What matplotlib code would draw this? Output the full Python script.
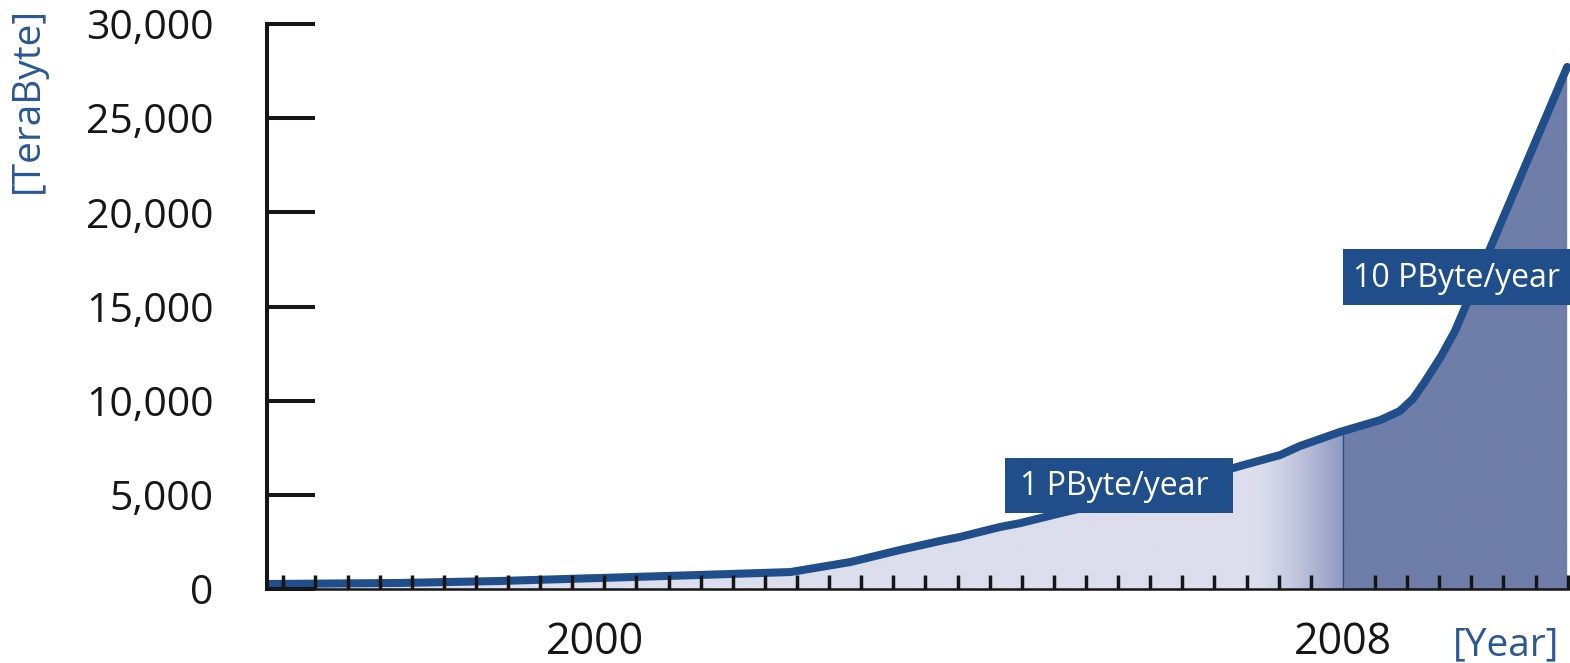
import numpy as np
import matplotlib
matplotlib.use("Agg")
import matplotlib.pyplot as plt
from matplotlib.colors import to_rgb
from matplotlib.patches import Polygon, Rectangle

plt.rcParams['font.family'] = ['Open Sans', 'DejaVu Sans']

# Cumulative stored data volume (TeraByte) by year
years = [1996.50, 1997.91, 1998.98, 2000.05, 2001.12, 2002.09, 2002.73, 2003.26,
         2003.69, 2003.90, 2004.33, 2004.55, 2004.99, 2005.40, 2005.94, 2006.47,
         2006.90, 2007.33, 2007.54, 2007.97, 2008.40, 2008.61, 2008.75, 2008.87,
         2009.05, 2009.20, 2010.40]
volume_tb = [265, 320, 425, 585, 745, 900, 1430, 2070,
             2550, 2760, 3290, 3500, 4040, 4510, 5150, 5890,
             6530, 7115, 7590, 8340, 8970, 9450, 10100, 10950,
             12350, 13700, 27720]

y_ticks = [0, 5000, 10000, 15000, 20000, 25000, 30000]
y_tick_labels = ["0", "5,000", "10,000", "15,000", "20,000", "25,000", "30,000"]
x_ticks = [2000, 2008]
x_tick_labels = ["2000", "2008"]
rate_labels = ["1 PByte/year", "10 PByte/year"]

W, H = 1570, 663
fig = plt.figure(figsize=(W / 100, H / 100), dpi=100)
fig.patch.set_facecolor('white')
ax = fig.add_axes([267 / W, 74 / H, (W - 267) / W, 565 / H])

x_min, x_max = 1996.49, 2010.43
y_max = 30000

NAVY = '#1f4e8b'
INK = '#161616'
BLUE_TXT = '#2b5797'
LIGHT = np.array(to_rgb('#dcdeec'))
MID = np.array(to_rgb('#8e99c0'))
DARK = np.array(to_rgb('#6f7ea8'))

# Area under the curve, shaded with a horizontal gradient
verts = list(zip(years, volume_tb)) + [(years[-1], 0), (years[0], 0)]
area = Polygon(verts, closed=True, facecolor='none', edgecolor='none')
ax.add_patch(area)
gx = np.linspace(x_min, x_max, 1600)
t = np.clip((gx - 2007.05) / (2008 - 2007.05), 0, 1) ** 1.4
rgb = LIGHT[None, :] * (1 - t[:, None]) + MID[None, :] * t[:, None]
rgb[gx >= 2008] = DARK
img = ax.imshow(rgb[None, :, :], extent=[x_min, x_max, 0, y_max], aspect='auto',
                origin='lower', interpolation='bilinear', zorder=1)
img.set_clip_path(area)

# Divider at 2008
ax.plot([2008, 2008], [0, np.interp(2008, years, volume_tb)], color=NAVY,
        lw=0.9, zorder=1.5)

# Volume curve
ax.plot(years, volume_tb, color=NAVY, lw=5.8, solid_joinstyle='round',
        solid_capstyle='round', zorder=2)

ax.set_xlim(x_min, x_max)
ax.set_ylim(0, y_max)

# Axes styling
for side in ('top', 'right'):
    ax.spines[side].set_visible(False)
ax.spines['left'].set_linewidth(2.9)
ax.spines['left'].set_color(INK)
ax.spines['bottom'].set_linewidth(1.8)
ax.spines['bottom'].set_color(INK)
ax.set_axisbelow(False)

ax.set_yticks(y_ticks, y_tick_labels)
ax.tick_params(axis='y', direction='in', length=34.5, width=2.9, pad=38.5,
               labelsize=29.5, color=INK, labelcolor=INK)

tick_step = 0.3435  # spacing of the small x ticks, in years
ax.set_xticks(x_ticks, x_tick_labels)
ax.set_xticks(2008 + tick_step * np.arange(-33, 8), minor=True)
ax.tick_params(axis='x', which='major', length=0, pad=22.5, labelsize=31,
               labelcolor=INK)
ax.tick_params(axis='x', which='minor', direction='in', length=10, width=2.5,
               color=INK)

# Rate annotations
ax.add_patch(Rectangle((2004.385, 4036), 2.438, 2920, facecolor=NAVY,
                       edgecolor='none', zorder=5))
ax.text(2004.545, 4991, rate_labels[0], color='white', fontsize=23,
        ha='left', va='baseline', zorder=6)
ax.add_patch(Rectangle((2008.0, 15080), 3.0, 2975, facecolor=NAVY,
                       edgecolor='none', zorder=5, clip_on=True))
ax.text(2008.107, 16036, rate_labels[1], color='white', fontsize=23,
        ha='left', va='baseline', zorder=6)

# Axis unit labels
fig.text(28 / W, 1 - 100 / H, '[TeraByte]', rotation=90, ha='center',
         va='center', color=BLUE_TXT, fontsize=28)
fig.text(1506 / W, 1 - 655 / H, '[Year]', ha='center', va='baseline',
         color=BLUE_TXT, fontsize=28)

fig.savefig('out.png', dpi=100, facecolor='white')
